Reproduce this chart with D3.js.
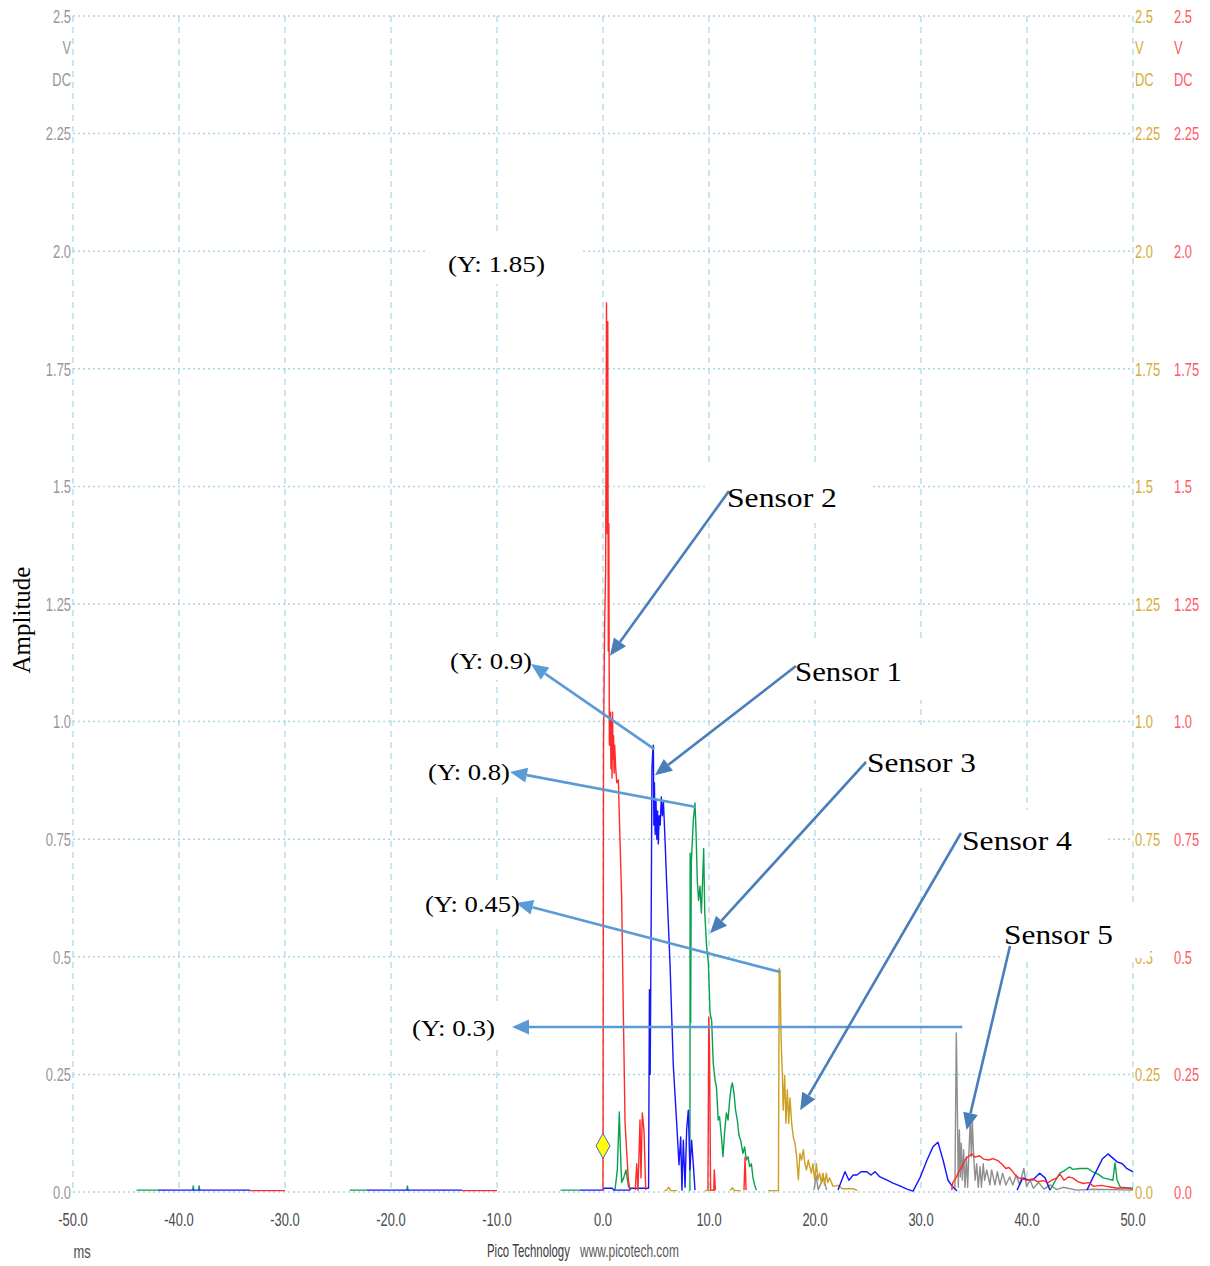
<!DOCTYPE html>
<html>
<head>
<meta charset="utf-8">
<script src="https://cdn.jsdelivr.net/npm/d3@7"></script>
<style>
  body { margin: 0; background: #ffffff; }
  svg { display: block; }
</style>
</head>
<body>
<svg id="chart" width="1210" height="1266"></svg>
<script>
// ---- axis ticks -----------------------------------------------------------
const timeTicks = [-50, -40, -30, -20, -10, 0, 10, 20, 30, 40, 50];
const timeTickLabels = ["-50.0", "-40.0", "-30.0", "-20.0", "-10.0", "0.0", "10.0", "20.0", "30.0", "40.0", "50.0"];
const ampTicks = [0, 0.25, 0.5, 0.75, 1.0, 1.25, 1.5, 1.75, 2.0, 2.25, 2.5];
const ampTickLabels = ["0.0", "0.25", "0.5", "0.75", "1.0", "1.25", "1.5", "1.75", "2.0", "2.25", "2.5"];

// ---- captured channels: [time ms, amplitude V], null = gap ----------------
const sensor1 = [
  [-42.0, 0.004], [-33.3, 0.004], null,
  [-22.3, 0.004], [-13.3, 0.004], null,
  [-2.2, 0.004], [0.0, 0.004], [0.1, 0.008], [0.9, 0.008], [1.0, 0.004], [2.5, 0.004], [2.6, 0.008], [4.3, 0.008],
  [4.38, 0.43], [4.45, 0.25], [4.55, 0.60], [4.62, 0.90], [4.70, 0.94], [4.75, 0.95], [4.80, 0.78], [4.85, 0.87],
  [4.92, 0.76], [5.00, 0.83], [5.08, 0.75], [5.15, 0.81], [5.22, 0.74], [5.30, 0.80], [5.40, 0.78], [5.50, 0.84],
  [5.60, 0.80], [5.70, 0.83], [5.85, 0.75], [6.00, 0.66], [6.32, 0.487], [6.63, 0.27], [6.95, 0.147], [7.17, 0.058],
  [7.33, 0.117], [7.45, 0.004], [7.58, 0.11], [7.74, 0.01], [7.89, 0.132], [8.05, 0.174], [8.20, 0.047],
  [8.36, 0.11], [8.52, 0.058], [8.68, 0.004], null,
  [22.17, 0.004], [22.83, 0.043], [23.2, 0.025], [23.6, 0.036],
  [23.96, 0.036], [24.34, 0.043], [24.9, 0.043], [25.28, 0.036], [25.66, 0.043], [26.13, 0.032], [26.79, 0.025],
  [27.36, 0.019], [28.0, 0.013], [28.68, 0.006], [29.25, 0.002], [29.9, 0.03], [30.57, 0.068], [31.13, 0.096],
  [31.6, 0.106], [32.08, 0.068], [32.55, 0.025], [32.92, 0.013], [33.4, 0.002], null,
  [39.06, 0.004], [39.6, 0.03],
  [40.1, 0.026], [40.57, 0.026], [41.2, 0.04], [41.7, 0.03], [42.17, 0.004], null,
  [45.66, 0.004], [46.2, 0.03],
  [46.6, 0.047], [47.1, 0.07], [47.64, 0.081], [48.1, 0.072], [48.5, 0.064], [49.0, 0.06], [49.4, 0.05], [50.0, 0.043]
];

const sensor2 = [
  [-33.3, 0.003], [-30.0, 0.003], null,
  [-13.3, 0.003], [-10.0, 0.003], null,
  [0.0, 0.004], [0.05, 0.95], [0.15, 1.20], [0.25, 1.32], [0.33, 1.89], [0.40, 1.40], [0.45, 1.85], [0.50, 1.15],
  [0.55, 1.42], [0.60, 0.95], [0.70, 1.02], [0.75, 0.90], [0.80, 1.00], [0.85, 0.88], [0.90, 1.02], [0.95, 0.92],
  [1.00, 0.97], [1.05, 0.89], [1.10, 0.95], [1.20, 0.90], [1.30, 0.87], [1.45, 0.876], [1.60, 0.75], [1.76, 0.627],
  [1.92, 0.38], [2.08, 0.147], [2.39, 0.026], [2.55, 0.004], null,
  [3.05, 0.004], [3.18, 0.06], [3.30, 0.004],
  [3.49, 0.153], [3.58, 0.03], [3.71, 0.168], [3.87, 0.13], [4.03, 0.004], null,
  [9.90, 0.004], [9.98, 0.372],
  [10.05, 0.30], [10.15, 0.004], [10.45, 0.004], [10.50, 0.047], [10.60, 0.004], null,
  [13.3, 0.004], [13.4, 0.074], [13.5, 0.004], null,
  [32.9, 0.004], [33.0, 0.02], [33.3, 0.03], [33.6, 0.045], [33.9, 0.055], [34.2, 0.07],
  [34.5, 0.076], [34.8, 0.081], [35.1, 0.074], [35.5, 0.077], [35.9, 0.07], [36.4, 0.068], [36.8, 0.071],
  [37.3, 0.066], [37.7, 0.058], [38.0, 0.05], [38.3, 0.052], [38.6, 0.045], [38.9, 0.036], [39.2, 0.03],
  [39.6, 0.028], [40.0, 0.025], [40.5, 0.028], [41.0, 0.022], [41.5, 0.024], [42.0, 0.02], [42.4, 0.026],
  [42.8, 0.03], [43.1, 0.038], [43.5, 0.025], [43.9, 0.032], [44.3, 0.03], [44.8, 0.022], [45.3, 0.018],
  [45.8, 0.02], [46.3, 0.012], [47.0, 0.014], [47.5, 0.012], [48.0, 0.01], [48.5, 0.008], [49.2, 0.009], [50.0, 0.006]
];

const sensor3 = [
  [-44.0, 0.004], [-42.0, 0.004], null,
  [-38.7, 0.004], [-38.65, 0.013], [-38.6, 0.004], null,
  [-38.15, 0.004], [-38.1, 0.013], [-38.05, 0.004], null,
  [-23.9, 0.004], [-22.3, 0.004], null,
  [-18.5, 0.004], [-18.45, 0.013], [-18.4, 0.004], null,
  [-4.0, 0.004], [-2.2, 0.004], null,
  [1.13, 0.004], [1.35, 0.047], [1.54, 0.17], [1.64, 0.09], [1.76, 0.02], [1.95, 0.03], [2.17, 0.047],
  [2.40, 0.012], [2.60, 0.004], null,
  [8.10, 0.004], [8.20, 0.004], [8.22, 0.72], [8.27, 0.36], [8.33, 0.70], [8.52, 0.79], [8.68, 0.827],
  [8.77, 0.77], [8.90, 0.66], [9.02, 0.62], [9.15, 0.65], [9.28, 0.593], [9.40, 0.665], [9.50, 0.73],
  [9.60, 0.593], [9.78, 0.52], [9.94, 0.487], [10.10, 0.38], [10.25, 0.365], [10.40, 0.274], [10.57, 0.238],
  [10.70, 0.224], [10.87, 0.153], [11.00, 0.16], [11.20, 0.11], [11.32, 0.075], [11.48, 0.13], [11.64, 0.168],
  [11.80, 0.153], [11.95, 0.196], [12.10, 0.224], [12.20, 0.232], [12.36, 0.21], [12.50, 0.175], [12.67, 0.153],
  [12.83, 0.12], [12.99, 0.11], [13.20, 0.082], [13.36, 0.096], [13.52, 0.068], [13.68, 0.075], [13.84, 0.054],
  [14.00, 0.06], [14.15, 0.03], [14.30, 0.015], [14.47, 0.004], null,
  [42.17, 0.004], [42.7, 0.025], [43.1, 0.04], [43.5, 0.045], [43.8, 0.05], [44.06, 0.053], [44.3, 0.048],
  [45.0, 0.05], [45.75, 0.05], [46.2, 0.043], [46.7, 0.038], [47.2, 0.03], [47.6, 0.028], [48.1, 0.025],
  [48.3, 0.062], [48.5, 0.025], [48.8, 0.01], [50.0, 0.008]
];

const sensor4 = [
  [5.8, 0.003], [6.0, 0.004], [6.2, 0.01], [6.4, 0.003], [7.0, 0.003], null,
  [9.6, 0.003], [10.6, 0.004], null,
  [12.0, 0.003], [12.2, 0.009], [12.4, 0.003], [13.0, 0.003], null,
  [15.6, 0.003], [16.55, 0.003], [16.62, 0.476], [16.70, 0.47], [16.79, 0.337], [16.85, 0.29], [16.92, 0.253], [17.00, 0.174],
  [17.14, 0.247], [17.26, 0.146], [17.39, 0.217], [17.52, 0.146], [17.64, 0.20], [17.80, 0.146], [17.95, 0.117],
  [18.11, 0.104], [18.27, 0.075], [18.43, 0.026], [18.58, 0.082], [18.74, 0.068], [18.90, 0.09], [19.05, 0.06],
  [19.20, 0.047], [19.37, 0.068], [19.50, 0.054], [19.66, 0.04], [19.80, 0.06], [19.97, 0.026], [20.13, 0.06],
  [20.28, 0.026], [20.44, 0.04], [20.60, 0.02], [20.75, 0.04], [20.90, 0.015], [21.07, 0.04], [21.20, 0.02],
  [21.38, 0.03], [21.70, 0.012], [22.15, 0.014], [22.60, 0.007], [23.60, 0.007], [24.0, 0.003]
];

const sensor5 = [
  [19.9, 0.004], [20.1, 0.035], [20.3, 0.005], [20.8, 0.03], [21.1, 0.004], null,
  [33.20, 0.006], [33.33, 0.338], [33.36, 0.30], [33.43, 0.174], [33.52, 0.01], [33.62, 0.132], [33.71, 0.032],
  [33.80, 0.104], [33.90, 0.025], [34.02, 0.09], [34.15, 0.01], [34.28, 0.075], [34.40, 0.01], [34.53, 0.09],
  [34.65, 0.153], [34.75, 0.075], [34.84, 0.153], [34.94, 0.09], [35.10, 0.025], [35.25, 0.06], [35.40, 0.01],
  [35.57, 0.054], [35.70, 0.01], [35.87, 0.06], [36.00, 0.025], [36.20, 0.047], [36.50, 0.015], [36.66, 0.047],
  [36.98, 0.015], [37.20, 0.043], [37.45, 0.015], [37.70, 0.04], [38.00, 0.015], [38.36, 0.032], [38.66, 0.015],
  [38.98, 0.036], [39.30, 0.015], [39.70, 0.05], [39.96, 0.012], [40.30, 0.025], [40.60, 0.008], [41.10, 0.02],
  [41.60, 0.006], [42.20, 0.015], [42.80, 0.005], [43.40, 0.01], [44.70, 0.004], [46.30, 0.006], [50.0, 0.004]
];

// trigger marker
const triggerTime = 0;
const triggerLevel = 0.098;

// annotation texts
const peakLabels = ["(Y: 1.85)", "(Y: 0.9)", "(Y: 0.8)", "(Y: 0.45)", "(Y: 0.3)"];
const sensorNames = ["Sensor 2", "Sensor 1", "Sensor 3", "Sensor 4", "Sensor 5"];
// points on each trace that the sensor arrows point to [time, amplitude]
const sensorTargets = [[0.66, 1.14], [4.9, 0.886], [10.1, 0.55], [18.6, 0.174], [34.3, 0.132]];

// ---- layout ---------------------------------------------------------------
const svg = d3.select("#chart");
const x = d3.scaleLinear().domain([-50, 50]).range([73, 1133]);
const y = d3.scaleLinear().domain([0, 2.5]).range([1192, 16]);

const gridColor = "#a9d5e5";
const tickFont = "'Liberation Sans', Arial, sans-serif";
const serif = "'Liberation Serif', 'Times New Roman', serif";

// grid
const grid = svg.append("g");
grid.selectAll("line.v").data(timeTicks).join("line")
  .attr("x1", d => x(d)).attr("x2", d => x(d))
  .attr("y1", y(2.5)).attr("y2", y(0))
  .attr("stroke", gridColor).attr("stroke-width", 1.2)
  .attr("stroke-dasharray", "6,5");
grid.selectAll("line.h").data(ampTicks).join("line")
  .attr("x1", x(-50)).attr("x2", x(50))
  .attr("y1", d => y(d)).attr("y2", d => y(d))
  .attr("stroke", gridColor).attr("stroke-width", 1.5)
  .attr("stroke-dasharray", "2,3");

// condensed tick-style text
function condText(g, px, py, str, anchor, color, size, sx) {
  return g.append("text")
    .attr("transform", `translate(${px},${py}) scale(${sx},1)`)
    .attr("text-anchor", anchor)
    .attr("dy", "0.36em")
    .attr("font-family", tickFont)
    .attr("font-size", size)
    .attr("fill", color)
    .text(str);
}

// text squeezed / stretched horizontally to a given width
function fitText(g, px, baseline, str, family, size, width, color) {
  const t = g.append("text")
    .attr("font-family", family).attr("font-size", size).attr("fill", color)
    .text(str);
  const natural = t.node().getComputedTextLength();
  t.attr("transform", `translate(${px},${baseline}) scale(${width / natural},1)`);
  return t;
}

const axes = svg.append("g");
const axisCols = [
  { px: 71, anchor: "end", color: "#979797" },
  { px: 1135, anchor: "start", color: "#d6ac3a" },
  { px: 1174, anchor: "start", color: "#ff5a66" }
];
axisCols.forEach(c => {
  ampTicks.forEach((t, i) => condText(axes, c.px, y(t), ampTickLabels[i], c.anchor, c.color, 19, 0.68));
  condText(axes, c.px, 47, "V", c.anchor, c.color, 19, 0.68);
  condText(axes, c.px, 79, "DC", c.anchor, c.color, 19, 0.68);
});
timeTicks.forEach((t, i) => condText(axes, x(t), 1219, timeTickLabels[i], "middle", "#4a4a4a", 19, 0.68));
condText(axes, 82, 1251, "ms", "middle", "#4a4a4a", 19, 0.68);
fitText(axes, 487, 1257, "Pico Technology", tickFont, 18, 83, "#3c3c3c");
fitText(axes, 580, 1257, "www.picotech.com", tickFont, 18, 99, "#5a5a5a");

// y-axis title
svg.append("text")
  .attr("transform", "translate(30,620) rotate(-90)")
  .attr("text-anchor", "middle")
  .attr("font-family", serif).attr("font-size", 25).attr("fill", "#000")
  .text("Amplitude");

// white label backgrounds
const labelBoxes = [
  [427, 232, 155, 52], [440, 637, 100, 43], [420, 752, 95, 43], [415, 885, 110, 40], [405, 1005, 95, 43],
  [707, 463, 166, 60], [780, 640, 155, 60], [850, 725, 150, 63], [940, 810, 167, 93], [1000, 907, 150, 51]
];
svg.append("g").selectAll("rect").data(labelBoxes).join("rect")
  .attr("x", d => d[0]).attr("y", d => d[1]).attr("width", d => d[2]).attr("height", d => d[3])
  .attr("fill", "#ffffff");

// traces
const line = d3.line().defined(d => d !== null).x(d => x(d[0])).y(d => y(d[1]));
const traces = [
  { data: sensor5, color: "#8e8e8e" },
  { data: sensor4, color: "#cc9e22" },
  { data: sensor3, color: "#07a14e" },
  { data: sensor1, color: "#1414ff" },
  { data: sensor2, color: "#ff2a2a" }
];
svg.append("g").selectAll("path").data(traces).join("path")
  .attr("d", d => line(d.data))
  .attr("fill", "none")
  .attr("stroke", d => d.color)
  .attr("stroke-width", 1.4)
  .attr("stroke-linejoin", "round");

// arrows
function arrow(g, x1, y1, x2, y2, color) {
  const a = Math.atan2(y2 - y1, x2 - x1);
  const len = 17, hw = 7.5;
  const bx = x2 - len * Math.cos(a), by = y2 - len * Math.sin(a);
  g.append("line").attr("x1", x1).attr("y1", y1).attr("x2", bx).attr("y2", by)
    .attr("stroke", color).attr("stroke-width", 2.6);
  const px = -Math.sin(a) * hw, py = Math.cos(a) * hw;
  g.append("path")
    .attr("d", `M${x2},${y2}L${bx + px},${by + py}L${bx - px},${by - py}Z`)
    .attr("fill", color);
}

const peakOf = data => data.filter(d => d !== null).reduce((m, d) => (d[1] > m[1] ? d : m));
const ann = svg.append("g");

// peak readout arrows (from each peak to its label)
const peakArrowColor = "#5b9bd5";
const peakSources = [sensor1, sensor3, sensor4, sensor5];
const peakTips = [[531, 664], [510, 772], [516, 903], [512, 1027]];
peakSources.forEach((s, i) => {
  const p = peakOf(s);
  const sx = x(p[0]) + (i === 3 ? 6 : 1);
  const sy = i === 3 ? peakTips[i][1] : y(p[1]) + 4;
  arrow(ann, sx, sy, peakTips[i][0], peakTips[i][1], peakArrowColor);
});

// sensor arrows
const sensorArrowColor = "#4a7ebb";
const sensorStarts = [[729, 491], [796, 666], [866, 762], [961, 833], [1010, 946]];
sensorTargets.forEach((t, i) => {
  arrow(ann, sensorStarts[i][0], sensorStarts[i][1], x(t[0]), y(t[1]), sensorArrowColor);
});

// annotation texts
const peakLabelPos = [[448, 272, 97], [450, 669, 82], [428, 780, 82], [425, 912, 95], [412, 1036, 83]];
peakLabels.forEach((s, i) => {
  fitText(ann, peakLabelPos[i][0], peakLabelPos[i][1], s, serif, 24, peakLabelPos[i][2], "#000");
});
const sensorLabelPos = [[727, 507, 110], [795, 681, 107], [867, 772, 109], [962, 850, 110], [1004, 944, 109]];
sensorNames.forEach((s, i) => {
  fitText(ann, sensorLabelPos[i][0], sensorLabelPos[i][1], s, serif, 28, sensorLabelPos[i][2], "#000");
});

// trigger marker
const tx = x(triggerTime), ty = y(triggerLevel);
svg.append("path")
  .attr("d", `M${tx},${ty - 12.5}L${tx + 7},${ty}L${tx},${ty + 12.5}L${tx - 7},${ty}Z`)
  .attr("fill", "#ffff00").attr("stroke", "#5a5ad8").attr("stroke-width", 1);
</script>
</body>
</html>
